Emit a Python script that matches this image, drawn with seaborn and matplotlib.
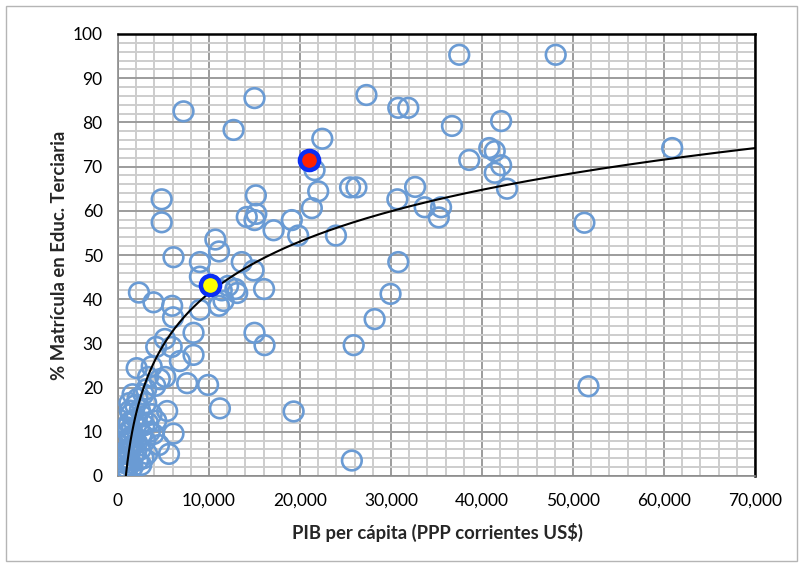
import numpy as np
import pandas as pd
import matplotlib
matplotlib.use("Agg")
import matplotlib.pyplot as plt
import seaborn as sns
from matplotlib.ticker import MultipleLocator, FuncFormatter
from matplotlib.patches import Rectangle

# ---------------- data ----------------
gdp_per_capita = [
    37500, 48100, 7200, 15000, 12700, 27300, 30800, 31900, 36700, 42100,
    22450, 21600, 38600, 40800, 41400, 42100, 41400, 42750, 22000, 25500,
    26200, 32650, 30700, 33700, 35500, 35250, 21300, 19100, 14150, 15200,
    15000, 17100, 19800, 23950, 15150, 4800, 4800, 10700, 11100, 6100,
    9000, 13600, 14900, 30800, 29950, 28200, 15000, 16100, 25900, 19300,
    25700, 60900, 51250, 51700, 9000, 12100, 13100, 16050, 11600, 2300,
    3900, 5950, 6050, 9000, 8300, 5150, 4200, 5900, 8300, 6800,
    2050, 3700, 3300, 5200, 7600, 9900, 4600, 11200, 5400, 6100,
    5600, 4500, 1600, 3100, 2800, 4100, 1300, 11100, 12900, 11400,
    300, 500, 600, 700, 800, 800, 900, 900, 1000, 1000,
    1100, 1100, 1200, 1200, 1300, 1300, 1400, 1400, 1500, 1500,
    1600, 1700, 1700, 1800, 1900, 2000, 2000, 2100, 2200, 2300,
    2400, 2500, 2600, 2700, 2800, 2900, 3000, 3100, 3300, 3500,
    3700, 3900, 4200, 1000, 1250, 1650, 2150, 2550, 3200, 1450,
]
tertiary_enrollment = [
    95.3, 95.3, 82.5, 85.5, 78.3, 86.2, 83.3, 83.3, 79.2, 80.3,
    76.3, 69.2, 71.5, 74.2, 73.5, 70.3, 68.6, 65.0, 64.4, 65.3,
    65.3, 65.4, 62.6, 60.8, 60.8, 58.5, 60.6, 57.9, 58.6, 59.3,
    57.9, 55.6, 54.4, 54.4, 63.5, 62.6, 57.4, 53.5, 50.8, 49.5,
    48.4, 48.4, 46.5, 48.4, 41.2, 35.5, 32.4, 29.6, 29.6, 14.6,
    3.5, 74.2, 57.3, 20.3, 45.1, 43.0, 41.4, 42.3, 39.6, 41.5,
    39.3, 38.5, 35.9, 37.6, 32.4, 31.0, 29.2, 29.2, 27.4, 26.0,
    24.4, 24.8, 22.4, 22.4, 21.0, 20.6, 21.9, 15.3, 14.7, 9.6,
    5.0, 7.0, 18.5, 19.6, 18.5, 20.4, 14.8, 38.5, 42.3, 42.0,
    7.8, 1.5, 3.0, 1.0, 2.0, 5.0, 3.5, 8.0, 1.5, 6.0,
    4.0, 10.0, 2.5, 12.0, 5.5, 8.5, 3.0, 14.0, 6.5, 10.5,
    2.0, 4.5, 12.5, 9.0, 16.0, 5.5, 13.0, 7.5, 3.5, 11.0,
    15.0, 6.0, 9.5, 13.5, 4.0, 11.5, 8.0, 16.5, 12.0, 10.0,
    14.0, 9.5, 12.5, 11.0, 16.5, 7.0, 17.5, 2.5, 5.0, 9.0,
]
highlight_gdp = [10100, 21000]
highlight_enroll = [43.3, 71.5]
highlight_fill = ["#FFFF00", "#FF2200"]

x_ticks = [0, 10000, 20000, 30000, 40000, 50000, 60000, 70000]
y_ticks = [0, 10, 20, 30, 40, 50, 60, 70, 80, 90, 100]
x_label = "PIB per cápita (PPP corrientes US$)"
y_label = "% Matrícula en Educ. Terciaria"

# ---------------- styling ----------------
sns.set_theme(style="white")
plt.rcParams['font.family'] = ['Lato', 'DejaVu Sans']

W, H = 804, 567
fig = plt.figure(figsize=(W / 100, H / 100), dpi=100)
fig.patch.set_facecolor("white")
left, right, top, bottom = 118, 755, 34, 476
ax = fig.add_axes([left / W, 1 - bottom / H, (right - left) / W, (bottom - top) / H])

df = pd.DataFrame({"gdp": gdp_per_capita, "enroll": tertiary_enrollment})

# grid
ax.set_axisbelow(True)
ax.xaxis.set_minor_locator(MultipleLocator(2000))
ax.yaxis.set_minor_locator(MultipleLocator(2))
ax.grid(which="minor", color="#CDCDCD", linewidth=1.4)
ax.grid(which="major", color="#9C9C9C", linewidth=1.4)

# scatter of countries
sns.scatterplot(data=df, x="gdp", y="enroll", ax=ax, marker="o", s=200,
                facecolor="none", edgecolor="#6A9BD4", linewidth=1.9,
                zorder=3, legend=False)

# logarithmic trend line fitted to the data
fit_a, fit_b = np.polyfit(np.log(df["gdp"]), df["enroll"], 1)
x_start = np.exp(-fit_b / fit_a)
trend_x = np.linspace(x_start, x_ticks[-1], 400)
trend = pd.DataFrame({"gdp": trend_x, "enroll": fit_a * np.log(trend_x) + fit_b})
sns.lineplot(data=trend, x="gdp", y="enroll", ax=ax, color="black",
             linewidth=1.5, zorder=4)

# highlighted countries
hl = pd.DataFrame({"gdp": highlight_gdp, "enroll": highlight_enroll,
                   "fill": highlight_fill})
for _, r in hl.iterrows():
    sns.scatterplot(x=[r["gdp"]], y=[r["enroll"]], ax=ax, marker="o", s=190,
                    facecolor=r["fill"], edgecolor="#0A2EF5", linewidth=3.2,
                    zorder=5, legend=False)

ax.set_xlim(0, 70000)
ax.set_ylim(0, 100)
ax.set_xticks(x_ticks)
ax.set_yticks(y_ticks)
ax.xaxis.set_major_formatter(FuncFormatter(lambda v, p: f"{int(v):,}"))
ax.tick_params(which="major", direction="out", length=4, width=1,
               color="#8C8C8C", labelsize=12.5, labelcolor="black")
ax.tick_params(axis="x", pad=8)
ax.tick_params(axis="y", pad=7)
ax.tick_params(which="minor", length=0)
ax.set_xlabel("")
ax.set_ylabel("")

for s in ["left", "bottom"]:
    ax.spines[s].set_color("#8C8C8C")
    ax.spines[s].set_linewidth(1.2)
for s in ["top", "right"]:
    ax.spines[s].set_color("black")
    ax.spines[s].set_linewidth(1.8)

fig.text(437 / W, 1 - 532 / H, x_label, ha="center", va="center",
         fontsize=13.3, fontweight="bold")
fig.text(60 / W, 1 - 255 / H, y_label, ha="center", va="center",
         rotation=90, fontsize=13.3, fontweight="bold")

fig.patches.append(Rectangle((6 / W, 6 / H), (797 - 6) / W, (561 - 6) / H,
                             transform=fig.transFigure, fill=False,
                             edgecolor="#B5B5B5", linewidth=1.0))

fig.savefig("out.png", dpi=100)
